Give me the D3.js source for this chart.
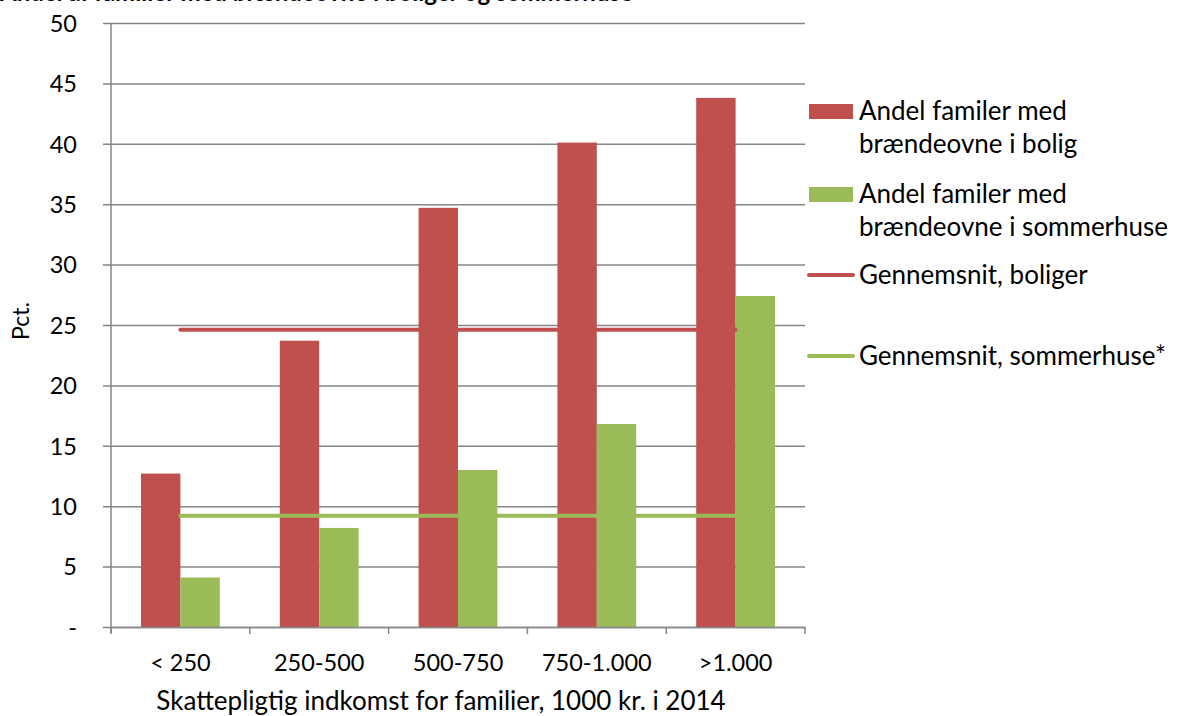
<!DOCTYPE html>
<html><head><meta charset="utf-8">
<script src="https://cdn.jsdelivr.net/npm/d3@7"></script>
<style>body{margin:0;background:#fff}svg{display:block}text{font-family:Lato,"Open Sans",sans-serif;fill:#000}</style>
</head><body><svg id="c" width="1179" height="716"></svg>
<script>
const categories = ["< 250","250-500","500-750","750-1.000",">1.000"];
const boligValues = [12.7, 23.7, 34.7, 40.1, 43.8];
const sommerValues = [4.1, 8.2, 13.0, 16.8, 27.4];
const boligAvg = 24.6;
const sommerAvg = 9.2;
const yTicks = [0,5,10,15,20,25,30,35,40,45,50];
const seriesNames = ["Andel familer med|brændeovne i bolig","Andel familer med|brændeovne i sommerhuse","Gennemsnit, boliger","Gennemsnit, sommerhuse*"];
const title = "Andel af familier med brændeovne i boliger og sommerhuse";
const xTitle = "Skattepligtig indkomst for familier, 1000 kr. i 2014";
const yTitle = "Pct.";

const red = "#c0504d", green = "#9bbb59", grid = "#868686";
const svg = d3.select("#c");
const L = 111, R = 805, T = 23, B = 627;
const x = d3.scaleBand().domain(categories).range([L, R]).paddingInner(0).paddingOuter(0);
const inner = d3.scaleBand().domain(["b","s"]).range([30, x.bandwidth()-30]).padding(0);
const y = d3.scaleLinear().domain([0,50]).range([B, T]);

// title (cut off at top edge, as in the reference)
svg.append("text").attr("x", 0).attr("y", 1).attr("font-weight","bold").attr("font-size", 24).text(title);

// gridlines + y tick labels
const yAxis = d3.axisLeft(y).tickValues(yTicks).tickSize(-(R-L)).tickFormat(d => d===0 ? "-" : d);
const gy = svg.append("g").attr("transform",`translate(${L},0)`).call(yAxis);
gy.select(".domain").remove();
gy.selectAll(".tick line").attr("stroke", grid).attr("stroke-width", 1.5).attr("x1", -8);
gy.selectAll(".tick text").attr("x", -34).attr("dy","0.35em").attr("font-size", 23.5).attr("font-family","Lato,sans-serif").attr("fill","#000");

// bars
const g = svg.append("g");
g.selectAll(".rb").data(categories).join("rect")
 .attr("x", d => x(d) + inner("b")).attr("width", inner.bandwidth())
 .attr("y", (d,i) => y(boligValues[i])).attr("height", (d,i) => B - y(boligValues[i])).attr("fill", red);
g.selectAll(".gb").data(categories).join("rect")
 .attr("x", d => x(d) + inner("s")).attr("width", inner.bandwidth())
 .attr("y", (d,i) => y(sommerValues[i])).attr("height", (d,i) => B - y(sommerValues[i])).attr("fill", green);

// y axis line
svg.append("line").attr("x1",L).attr("x2",L).attr("y1",T).attr("y2",B+6).attr("stroke",grid).attr("stroke-width",1.5);
// x axis
const xAxis = d3.axisBottom(x).tickSize(0).tickSizeOuter(0);
const gx = svg.append("g").attr("transform",`translate(0,${B})`).call(xAxis);
gx.select(".domain").attr("stroke",grid).attr("stroke-width",1.5);
gx.selectAll(".tick text").attr("y", 44).attr("dy", 0).attr("font-size", 23.5).attr("font-family","Lato,sans-serif").attr("fill","#000");
const bounds = categories.map(c => x(c)).concat([R]);
svg.append("g").selectAll("line").data(bounds).join("line")
 .attr("x1", d=>d).attr("x2", d=>d).attr("y1", B).attr("y2", B+7).attr("stroke",grid).attr("stroke-width",1.5);

// average lines
const cx = c => x(c) + x.bandwidth()/2;
svg.append("path").attr("d", d3.line()([[cx(categories[0]), y(boligAvg)],[cx(categories[4]), y(boligAvg)]]))
 .attr("stroke", red).attr("stroke-width",4).attr("stroke-linecap","round");
svg.append("path").attr("d", d3.line()([[cx(categories[0]), y(sommerAvg)],[cx(categories[4]), y(sommerAvg)]]))
 .attr("stroke", green).attr("stroke-width",4).attr("stroke-linecap","round");

// axis titles
svg.append("text").attr("x", 441).attr("y", 710).attr("text-anchor","middle").attr("font-size",26).text(xTitle);
svg.append("text").attr("transform","translate(29,321) rotate(-90)").attr("text-anchor","middle").attr("font-size",23).text(yTitle);

// legend
const lg = svg.append("g").attr("font-size", 26);
const items = [
  {type:"rect", color:red, y:111, lines:seriesNames[0].split("|")},
  {type:"rect", color:green, y:194, lines:seriesNames[1].split("|")},
  {type:"line", color:red, y:275, lines:[seriesNames[2]]},
  {type:"line", color:green, y:356, lines:[seriesNames[3]]}
];
items.forEach(it => {
  if (it.type==="rect") lg.append("rect").attr("x",809).attr("y",it.y-7).attr("width",44).attr("height",15).attr("fill",it.color);
  else lg.append("line").attr("x1",809).attr("x2",853).attr("y1",it.y).attr("y2",it.y).attr("stroke",it.color).attr("stroke-width",4).attr("stroke-linecap","round");
  it.lines.forEach((t,k) => lg.append("text").attr("x",859).attr("y", it.y + 9 + k*33).text(t));
});
</script></body></html>
